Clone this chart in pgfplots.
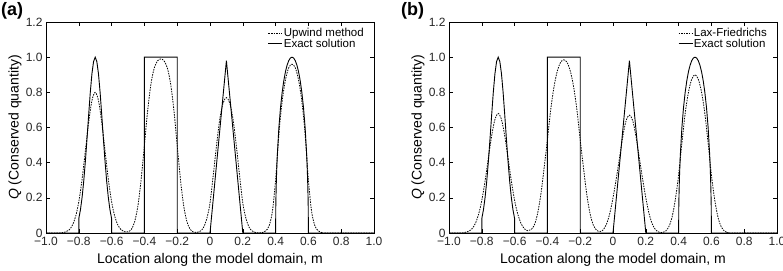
\documentclass[border=0pt]{standalone}
\usepackage{fontspec}
\setmainfont{Liberation Sans}
\usepackage{pgfplots}
\usepackage{pgfplotstable}
\pgfplotsset{compat=1.18}

\pgfplotstableread{
x y
-1.0 0
-0.8 0
-0.8 0.082
-0.79 0.132
-0.78 0.202
-0.77 0.294
-0.76 0.407
-0.75 0.535
-0.74 0.670
-0.73 0.799
-0.72 0.905
-0.71 0.975
-0.70 1.0
-0.69 0.975
-0.68 0.905
-0.67 0.799
-0.66 0.670
-0.65 0.535
-0.64 0.407
-0.63 0.294
-0.62 0.202
-0.61 0.132
-0.6 0.082
-0.6 0
-0.4 0
-0.4 1
-0.2 1
-0.2 0
0 0
0.1 0.98
0.2 0
0.4 0
0.401 0.141
0.402 0.199
0.405 0.312
0.41 0.436
0.42 0.6
0.43 0.714
0.44 0.8
0.45 0.866
0.46 0.917
0.47 0.954
0.48 0.980
0.49 0.995
0.50 1.0
0.51 0.995
0.52 0.980
0.53 0.954
0.54 0.917
0.55 0.866
0.56 0.8
0.57 0.714
0.58 0.6
0.59 0.436
0.595 0.312
0.598 0.199
0.599 0.141
0.6 0
1.0 0
}\exact

\pgfplotstableread{
x y
-1.0 0
-0.92 0
-0.90 0.002
-0.88 0.006
-0.86 0.017
-0.84 0.042
-0.82 0.092
-0.80 0.178
-0.78 0.306
-0.76 0.466
-0.74 0.629
-0.72 0.753
-0.70 0.80
-0.68 0.753
-0.66 0.629
-0.64 0.466
-0.62 0.306
-0.60 0.178
-0.58 0.092
-0.56 0.042
-0.54 0.017
-0.52 0.007
-0.50 0.007
-0.48 0.020
-0.46 0.062
-0.44 0.152
-0.42 0.303
-0.40 0.5
-0.38 0.697
-0.36 0.848
-0.34 0.938
-0.32 0.979
-0.30 0.990
-0.28 0.979
-0.26 0.938
-0.24 0.848
-0.22 0.697
-0.20 0.5
-0.18 0.303
-0.16 0.152
-0.14 0.062
-0.12 0.020
-0.10 0.005
-0.08 0.003
-0.06 0.01
-0.04 0.03
-0.02 0.08
0.00 0.17
0.02 0.33
0.04 0.50
0.06 0.65
0.08 0.74
0.10 0.77
0.12 0.74
0.14 0.65
0.16 0.50
0.18 0.33
0.20 0.17
0.22 0.08
0.24 0.03
0.26 0.01
0.28 0.002
0.30 0
0.32 0.003
0.34 0.012
0.36 0.04
0.38 0.12
0.40 0.30
0.42 0.56
0.44 0.75
0.46 0.87
0.48 0.94
0.50 0.96
0.52 0.94
0.54 0.87
0.56 0.75
0.58 0.56
0.60 0.30
0.62 0.12
0.64 0.04
0.66 0.012
0.68 0.003
0.70 0
1.0 0
}\upwind

\pgfplotstableread{
x y
-1.0 0
-0.92 0
-0.90 0.004
-0.88 0.010
-0.86 0.024
-0.84 0.053
-0.82 0.105
-0.80 0.185
-0.78 0.296
-0.76 0.426
-0.74 0.552
-0.72 0.645
-0.70 0.68
-0.68 0.645
-0.66 0.552
-0.64 0.426
-0.62 0.296
-0.60 0.185
-0.58 0.105
-0.56 0.053
-0.54 0.024
-0.52 0.013
-0.50 0.019
-0.48 0.045
-0.46 0.11
-0.44 0.22
-0.42 0.37
-0.40 0.53
-0.38 0.70
-0.36 0.83
-0.34 0.92
-0.32 0.97
-0.30 0.985
-0.28 0.97
-0.26 0.92
-0.24 0.83
-0.22 0.70
-0.20 0.53
-0.18 0.37
-0.16 0.22
-0.14 0.11
-0.12 0.045
-0.10 0.016
-0.08 0.008
-0.06 0.018
-0.04 0.05
-0.02 0.11
0.00 0.20
0.02 0.31
0.04 0.43
0.06 0.55
0.08 0.64
0.10 0.67
0.12 0.64
0.14 0.55
0.16 0.43
0.18 0.31
0.20 0.20
0.22 0.11
0.24 0.05
0.26 0.018
0.28 0.005
0.30 0.002
0.32 0.01
0.34 0.035
0.36 0.09
0.38 0.19
0.40 0.33
0.42 0.51
0.44 0.68
0.46 0.80
0.48 0.875
0.50 0.90
0.52 0.875
0.54 0.80
0.56 0.68
0.58 0.51
0.60 0.33
0.62 0.19
0.64 0.09
0.66 0.035
0.68 0.01
0.70 0.002
0.72 0
1.0 0
}\laxf

\pgfplotsset{
  panel/.style={
    scale only axis, width=328pt, height=211pt,
    xmin=-1, xmax=1, ymin=0, ymax=1.2,
    xtick={-1,-0.8,-0.6,-0.4,-0.2,0,0.2,0.4,0.6,0.8,1},
    xticklabels={−1.0,−0.8,−0.6,−0.4,−0.2,0,0.2,0.4,0.6,0.8,1.0},
    ytick={0,0.2,0.4,0.6,0.8,1.0,1.2},
    yticklabels={0,0.2,0.4,0.6,0.8,1.0,1.2},
    tick align=inside, major tick length=4pt,
    every tick/.style={black, line width=0.6pt},
    axis line style={black, line width=0.8pt},
    tick label style={font=\fontsize{12}{13}\selectfont, text=black!85},
    xticklabel style={yshift=-1pt},
    label style={font=\fontsize{14}{17}\selectfont},
    xlabel={Location along the model domain, m},
    ylabel={\textit{Q} (Conserved quantity)},
    xlabel style={at={(axis description cs:0.5,-0.128)}, anchor=center},
    ylabel style={at={(axis description cs:-0.0945,0.5)}, anchor=center},
    legend style={at={(1,1)}, anchor=north east, draw=none, fill=none,
      font=\fontsize{11.5}{12}\selectfont, xshift=-9pt, yshift=-5pt,
      inner sep=0pt, row sep=-1pt, nodes={inner sep=1pt}},
    legend cell align=left,
    legend image code/.code={\draw[#1] (0pt,0pt) -- (14pt,0pt);},
  },
  num/.style={black, line width=0.8pt, dash pattern=on 1.5pt off 1.1pt, smooth, tension=0.5},
  ex/.style={black, line width=0.9pt},
}

\begin{document}
\begin{tikzpicture}
\useasboundingbox (-46pt,-37pt) rectangle (737pt,233pt);
\begin{axis}[panel, at={(0pt,0pt)}, anchor=south west]
  \addplot[num] table[x=x,y=y] {\upwind};
  \addlegendentry{Upwind method}
  \addplot[ex] table[x=x,y=y] {\exact};
  \addlegendentry{Exact solution}
\end{axis}
\begin{axis}[panel, at={(403pt,0pt)}, anchor=south west]
  \addplot[num] table[x=x,y=y] {\laxf};
  \addlegendentry{Lax-Friedrichs}
  \addplot[ex] table[x=x,y=y] {\exact};
  \addlegendentry{Exact solution}
\end{axis}
\node[anchor=north west, inner sep=0pt, font=\fontsize{18}{20}\selectfont\bfseries] at (-45pt,231pt) {(a)};
\node[anchor=north west, inner sep=0pt, font=\fontsize{18}{20}\selectfont\bfseries] at (355pt,231pt) {(b)};
\end{tikzpicture}
\end{document}
